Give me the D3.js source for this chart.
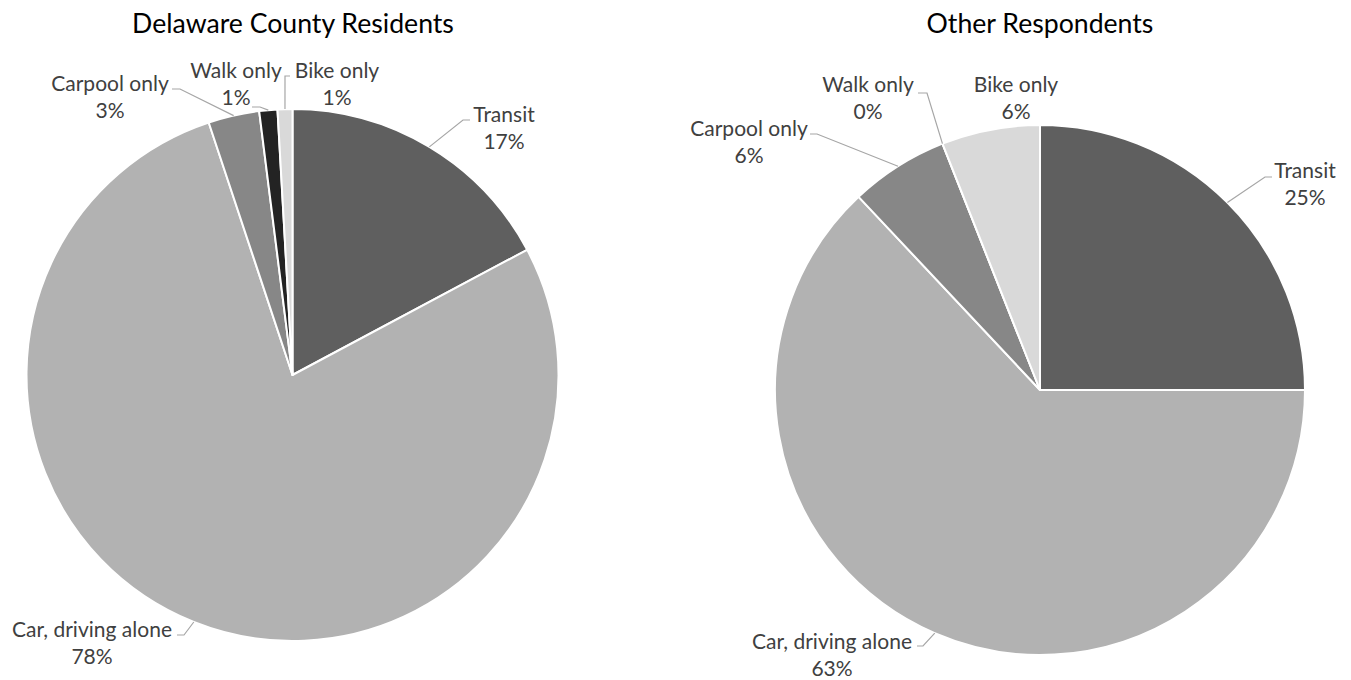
<!DOCTYPE html>
<html>
<head>
<meta charset="utf-8">
<script src="https://cdn.jsdelivr.net/npm/d3@7/dist/d3.min.js"></script>
<style>
  html, body { margin: 0; padding: 0; background: #fff; }
  svg { display: block; }
</style>
</head>
<body>
<svg id="chart" width="1351" height="680"></svg>
<script>
// ---- data ----
const categories = ["Transit", "Car, driving alone", "Carpool only", "Walk only", "Bike only"];
const delawareValues = [17.2, 77.7, 3.1, 1.1, 0.9];
const otherValues = [25, 63, 6, 0, 6];
const delawareLabels = ["17%", "78%", "3%", "1%", "1%"];
const otherLabels = ["25%", "63%", "6%", "0%", "6%"];
const titles = ["Delaware County Residents", "Other Respondents"];
const colors = ["#5f5f5f", "#b2b2b2", "#878787", "#232323", "#d9d9d9"];

// ---- layout (positions only) ----
const pies = [
  { cx: 292.5, cy: 375, r: 266, titleX: 293, titleY: 33,
    values: delawareValues, pct: delawareLabels,
    labels: [
      { x: 504, y: 122, elbow: [[470, 120], [463, 120]] },
      { x: 92, y: 637, elbow: [[177, 635], [184, 635]] },
      { x: 110, y: 91, elbow: [[172, 89], [180, 89]] },
      { x: 236, y: 78, elbow: [[252, 107], [260, 107]] },
      { x: 337, y: 78, elbow: [[290, 76], [285, 76]] }
    ] },
  { cx: 1040, cy: 390, r: 265, titleX: 1040, titleY: 33,
    values: otherValues, pct: otherLabels,
    labels: [
      { x: 1305, y: 178, elbow: [[1272, 177], [1265, 177]] },
      { x: 832, y: 649, elbow: [[917, 646], [923, 646]] },
      { x: 749, y: 136, elbow: [[810, 134], [817, 134]] },
      { x: 868, y: 92, elbow: [[918, 93], [927, 93]] },
      { x: 1016, y: 92, elbow: null }
    ] }
];

const FONT = "Lato, 'Open Sans', sans-serif";
const svg = d3.select("#chart");

// fit font sizes to the reference text widths
function fitSize(text, targetWidth) {
  const t = svg.append("text").attr("font-family", FONT).attr("font-size", 100).text(text);
  const w = t.node().getComputedTextLength();
  t.remove();
  return 100 * targetWidth / w;
}
const labelSize = fitSize("Car, driving alone", 160);
const titleSize = fitSize("Delaware County Residents", 322);

const pie = d3.pie().sort(null).value(d => d).startAngle(0).endAngle(2 * Math.PI);
const lineGen = d3.line();

pies.forEach(p => {
  const g = svg.append("g").attr("transform", `translate(${p.cx},${p.cy})`);
  const arc = d3.arc().innerRadius(0).outerRadius(p.r);
  const arcs = pie(p.values);

  g.selectAll("path.slice")
    .data(arcs)
    .join("path")
    .attr("class", "slice")
    .attr("d", arc)
    .attr("fill", (d, i) => colors[i])
    .attr("stroke", "#fff")
    .attr("stroke-width", 2)
    .attr("stroke-linejoin", "round");

  // title
  svg.append("text")
    .attr("x", p.titleX).attr("y", p.titleY)
    .attr("text-anchor", "middle")
    .attr("font-family", FONT)
    .attr("font-size", titleSize)
    .attr("fill", "#000")
    .text(titles[pies.indexOf(p)]);

  // leader lines
  arcs.forEach((a, i) => {
    const L = p.labels[i];
    if (!L.elbow) return;
    const mid = (a.startAngle + a.endAngle) / 2;
    const edge = [p.cx + p.r * Math.sin(mid), p.cy - p.r * Math.cos(mid)];
    svg.append("path")
      .attr("d", lineGen([L.elbow[0], L.elbow[1], edge]))
      .attr("fill", "none")
      .attr("stroke", "#a6a6a6")
      .attr("stroke-width", 1.2);
  });

  // labels
  arcs.forEach((a, i) => {
    const L = p.labels[i];
    const t = svg.append("text")
      .attr("x", L.x).attr("y", L.y)
      .attr("text-anchor", "middle")
      .attr("font-family", FONT)
      .attr("font-size", labelSize)
      .attr("fill", "#404040");
    t.append("tspan").attr("x", L.x).text(categories[i]);
    t.append("tspan").attr("x", L.x).attr("dy", 27).text(p.pct[i]);
  });
});
</script>
</body>
</html>
